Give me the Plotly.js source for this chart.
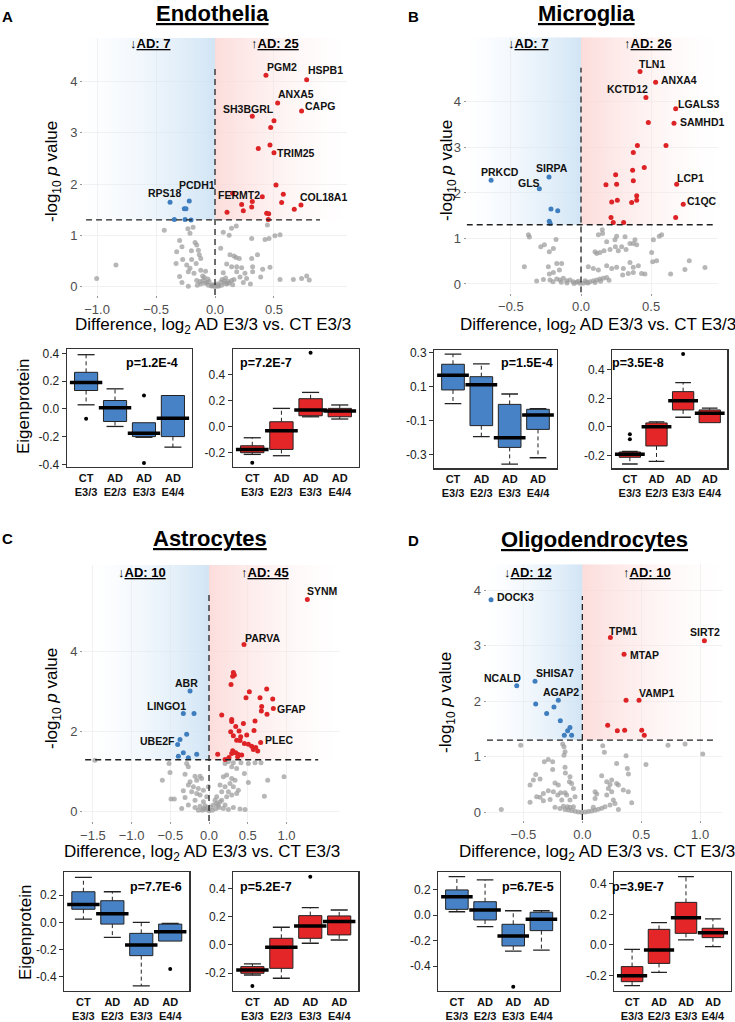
<!DOCTYPE html>
<html><head><meta charset="utf-8">
<script src="https://cdn.plot.ly/plotly-3.0.1.min.js"></script>
<style>html,body{margin:0;padding:0;background:#fff;}#chart{width:735px;height:1022px;}</style>
</head><body><div id="chart"></div>
<script>
// ---------------- DATA ----------------
const groups = ['CT<br>E3/3','AD<br>E2/3','AD<br>E3/3','AD<br>E4/4'];
const cellTypes = ['Endothelia','Microglia','Astrocytes','Oligodendrocytes'];
const panelLetters = ['A','B','C','D'];
const downCounts = [7,7,10,12];
const upCounts = [25,26,45,10];
const pDown = ['p=1.2E-4','p=1.5E-4','p=7.7E-6','p=6.7E-5'];
const pUp = ['p=7.2E-7','p=3.5E-8','p=5.2E-7','p=3.9E-7'];

// Endothelia volcano
const A_upX = [0.432,0.777,0.531,0.734,0.316,0.50,0.472,0.367,0.466,0.50,0.517,0.579,0.401,0.316,0.226,0.311,0.565,0.729,0.672,0.240,0.102,0.438,0.455,0.452,0.15];
const A_upY = [4.12,4.03,3.58,3.42,3.32,3.23,3.10,2.69,2.76,2.61,1.98,1.80,1.75,1.66,1.60,1.55,1.64,1.59,1.51,1.48,1.45,1.43,1.42,1.31,1.82];
const A_upLab = ['PGM2','HSPB1','ANXA5','CAPG','SH3BGRL','','','','','TRIM25','','','FERMT2','','','','','COL18A1','','','','','','',''];
const A_dnX = [-0.381,-0.218,-0.26,-0.246,-0.345,-0.254,-0.203];
const A_dnY = [1.645,1.67,1.52,1.52,1.31,1.31,1.30];
const A_dnLab = ['RPS18','PCDH1','','','','',''];
const A_gray = [[-1.003,0.16],[-0.84,0.42],[-0.43,1.10],[-0.23,1.13],[-0.186,1.16],[-0.212,1.04],[-0.30,0.90],[-0.28,0.78],[-0.169,0.86],[-0.155,0.81],[-0.325,0.68],[-0.141,0.71],[-0.20,0.70],[-0.133,0.62],[-0.121,0.55],[-0.198,0.53],[-0.274,0.53],[-0.33,0.45],[-0.16,0.45],[-0.240,0.42],[-0.212,0.36],[-0.226,0.29],[-0.178,0.26],[-0.121,0.32],[-0.08,0.30],[-0.105,0.21],[-0.30,0.20],[-0.28,0.08],[-0.226,0.01],[-0.155,0.12],[-0.127,0.10],[-0.085,0.065],[-0.056,0.03],[-0.028,0.013],[0.0,0.0],[0.028,0.013],[0.056,0.03],[0.085,0.065],[0.113,0.10],[0.141,0.12],[-0.10,0.12],[-0.07,0.08],[-0.05,0.10],[-0.02,0.04],[0.02,0.05],[0.05,0.09],[0.08,0.11],[0.10,0.05],[-0.12,0.05],[0.12,0.07],[-0.03,0.02],[0.03,0.015],[-0.06,0.15],[0.06,0.14],[0.09,0.17],[-0.09,0.18],[0.15,0.04],[-0.15,0.03],[0.0,0.03],[0.07,1.06],[0.14,1.14],[0.18,1.18],[0.12,1.0],[0.311,0.94],[0.424,0.92],[0.444,1.20],[0.458,0.94],[0.508,0.99],[0.551,1.01],[0.36,0.62],[0.048,0.75],[0.127,0.62],[0.161,0.60],[0.178,0.57],[0.311,0.55],[0.206,0.55],[0.099,0.44],[0.141,0.39],[0.184,0.39],[0.226,0.37],[0.319,0.39],[0.184,0.29],[0.254,0.26],[0.319,0.29],[0.404,0.34],[0.466,0.38],[0.387,0.19],[0.551,0.14],[0.664,0.14],[0.734,0.16],[0.777,0.21],[0.799,0.13],[0.161,0.14],[0.212,0.19],[0.268,0.16],[0.07,0.27],[0.24,0.08],[0.30,0.05]];

// Microglia volcano
const B_upX = [0.421,0.532,0.463,0.675,0.48,0.663,0.402,0.606,0.373,0.451,0.368,0.247,0.373,0.682,0.178,0.254,0.397,0.397,0.259,0.219,0.361,0.729,0.675,0.214,0.230,0.304];
const B_upY = [4.67,4.43,4.10,3.85,3.55,3.53,3.04,3.04,2.89,2.56,2.50,2.40,2.27,2.19,2.18,2.19,1.94,1.84,1.84,1.80,1.79,1.75,1.46,1.46,1.35,1.35];
const B_upLab = ['TLN1','ANXA4','KCTD12','LGALS3','','SAMHD1','','','','','','','','LCP1','','','','','','','','C1QC','','','',''];
const B_dnX = [-0.641,-0.228,-0.297,-0.214,-0.166,-0.226,-0.22];
const B_dnY = [2.28,2.35,2.09,1.65,1.61,1.38,1.33];
const B_dnLab = ['PRKCD','SIRPA','GLS','','','',''];
const B_gray = [[-0.375,1.08],[-0.368,1.03],[-0.287,0.82],[-0.261,0.86],[-0.226,0.71],[-0.197,0.78],[-0.178,0.98],[-0.404,0.38],[-0.233,0.38],[-0.173,0.45],[-0.138,0.45],[-0.226,0.22],[-0.197,0.25],[-0.154,0.31],[-0.316,0.066],[-0.268,0.10],[-0.221,0.09],[-0.173,0.11],[-0.15,0.09],[-0.126,0.125],[-0.102,0.073],[-0.078,0.09],[-0.055,0.05],[-0.031,0.037],[-0.007,0.015],[0.017,0.015],[0.04,0.037],[0.064,0.05],[0.088,0.073],[0.112,0.09],[0.135,0.11],[0.159,0.125],[0.183,0.14],[-0.10,0.02],[-0.05,0.01],[0.05,0.02],[0.10,0.03],[-0.02,0.06],[0.03,0.07],[0.14,0.06],[-0.14,0.04],[0.2,0.08],[-0.2,0.05],[0.124,1.08],[0.154,1.11],[0.152,1.19],[0.183,0.93],[0.10,0.71],[0.112,0.67],[0.135,0.69],[0.164,0.73],[0.207,0.76],[0.245,0.82],[0.266,0.73],[0.29,0.82],[0.321,0.76],[0.349,0.89],[0.373,0.89],[0.385,0.97],[0.397,0.86],[0.242,0.97],[0.254,1.05],[0.314,1.04],[0.516,0.97],[0.558,1.05],[0.575,1.08],[0.504,0.69],[0.511,0.49],[0.539,0.51],[0.052,0.38],[0.088,0.34],[0.124,0.31],[0.183,0.40],[0.219,0.34],[0.254,0.37],[0.302,0.34],[0.349,0.47],[0.373,0.37],[0.409,0.40],[0.297,0.20],[0.337,0.23],[0.373,0.25],[0.432,0.23],[0.456,0.22],[0.639,0.22],[0.741,0.32],[0.772,0.51],[0.884,0.36]];

// Astrocytes volcano
const C_upX = [1.27,0.452,0.314,0.327,0.306,0.284,0.521,0.745,0.478,0.659,0.823,0.680,0.676,0.831,0.749,0.594,0.164,0.293,0.293,0.444,0.345,0.28,0.388,0.581,0.314,0.409,0.487,0.357,0.40,0.457,0.508,0.551,0.603,0.667,0.573,0.629,0.306,0.345,0.379,0.422,0.293,0.112,0.207,0.258,0.37];
const C_upY = [5.31,4.18,3.48,3.42,3.39,3.18,3.0,3.07,2.85,2.85,2.82,2.63,2.52,2.58,2.44,2.27,2.42,2.31,2.26,2.21,2.13,2.0,2.02,2.03,1.90,1.875,1.92,1.79,1.78,1.71,1.69,1.64,1.61,1.73,1.56,1.52,1.525,1.475,1.43,1.42,1.46,1.44,1.31,1.36,1.375];
const C_upLab = ['SYNM','PARVA','','','','','','','','','','','','GFAP','','','','','','','','','','','','','','','','','','','','PLEC','','','','','','','','','','',''];
const C_dnX = [-0.245,-0.332,-0.194,-0.289,-0.375,-0.405,-0.332,-0.396,-0.267,-0.159];
const C_dnY = [3.02,2.46,2.46,1.94,1.81,1.68,1.475,1.39,1.35,1.44];
const C_dnLab = ['ABR','LINGO1','','','','UBE2F','','','',''];
const C_gray = [[-1.473,1.29],[-0.517,1.21],[-0.504,0.98],[-0.603,0.79],[-0.289,1.21],[-0.267,1.125],[-0.31,0.94],[-0.181,0.89],[-0.116,0.89],[-0.245,0.75],[-0.159,0.79],[-0.095,0.83],[-0.267,0.67],[-0.202,0.625],[-0.138,0.58],[-0.073,0.54],[-0.332,0.525],[-0.224,0.50],[-0.159,0.46],[-0.116,0.42],[-0.31,0.36],[-0.181,0.29],[-0.073,0.25],[-0.353,0.08],[-0.267,0.17],[-0.181,0.11],[-0.116,0.14],[-0.073,0.08],[-0.138,0.04],[-0.086,0.04],[-0.491,0.32],[-0.448,0.32],[-0.043,0.06],[0.0,0.025],[0.043,0.04],[0.086,0.075],[0.129,0.11],[-0.03,0.375],[-0.009,0.625],[-0.05,0.15],[-0.02,0.10],[0.02,0.12],[0.207,1.21],[0.25,1.25],[0.314,1.225],[0.413,1.225],[0.508,1.21],[0.594,1.225],[0.672,1.225],[0.293,1.125],[0.357,1.08],[0.457,0.96],[0.508,0.73],[0.758,0.79],[0.969,0.875],[0.715,0.39],[0.185,0.875],[0.228,0.92],[0.293,0.83],[0.336,0.79],[0.142,0.67],[0.207,0.625],[0.271,0.71],[0.314,0.625],[0.379,0.54],[0.357,0.46],[0.293,0.42],[0.228,0.375],[0.164,0.29],[0.099,0.21],[0.121,0.17],[0.207,0.17],[0.314,0.11],[0.40,0.07],[0.465,0.06],[0.164,0.50],[0.25,0.50],[0.099,0.375],[0.142,0.25],[0.056,0.17],[0.078,0.29],[0.185,0.08],[0.25,0.06]];

// Oligodendrocytes volcano
const D_upX = [0.238,1.036,0.354,0.371,0.481,0.215,0.297,0.359,0.504,0.526];
const D_upY = [3.15,3.09,2.85,2.02,2.02,1.57,1.47,1.48,1.48,1.39];
const D_upLab = ['TPM1','SIRT2','MTAP','','VAMP1','','','','',''];
const D_dnX = [-0.775,-0.557,-0.402,-0.396,-0.204,-0.241,-0.303,-0.187,-0.125,-0.105,-0.091,-0.153];
const D_dnY = [3.83,2.28,2.36,1.95,2.02,1.90,1.78,1.65,1.47,1.53,1.39,1.39];
const D_dnLab = ['DOCK3','NCALD','SHISA7','','AGAP2','','','','','','',''];
const D_gray = [[-0.523,1.21],[-0.167,1.23],[-0.156,1.18],[-0.147,1.09],[-0.156,1.03],[0.173,1.20],[0.187,1.08],[0.371,1.02],[0.727,1.21],[0.872,1.23],[1.022,1.05],[0.54,0.86],[0.291,0.88],[0.382,0.79],[0.391,0.69],[0.164,0.66],[-0.323,0.91],[-0.289,0.95],[-0.252,0.91],[-0.252,0.77],[-0.147,0.81],[-0.144,0.71],[-0.105,0.64],[-0.11,0.55],[-0.091,0.52],[-0.076,0.43],[-0.396,0.68],[-0.416,0.58],[-0.444,0.49],[-0.359,0.60],[-0.232,0.53],[-0.204,0.49],[-0.289,0.39],[-0.246,0.37],[-0.209,0.31],[-0.331,0.34],[-0.359,0.27],[-0.331,0.21],[-0.274,0.23],[-0.444,0.18],[-0.388,0.28],[-0.184,0.35],[-0.147,0.35],[-0.133,0.31],[-0.062,0.28],[-0.105,0.22],[-0.175,0.22],[0.108,0.37],[0.122,0.33],[0.108,0.25],[0.207,0.55],[0.249,0.58],[0.235,0.50],[0.291,0.52],[0.306,0.49],[0.221,0.43],[0.249,0.37],[0.207,0.31],[0.263,0.22],[0.277,0.16],[0.235,0.13],[0.192,0.10],[0.306,0.05],[0.348,0.40],[0.39,0.37],[0.419,0.17],[-0.688,0.05],[-0.232,0.09],[-0.19,0.07],[-0.147,0.05],[-0.119,0.04],[-0.091,0.03],[-0.062,0.02],[-0.034,0.006],[-0.006,0.0],[0.023,0.006],[0.051,0.012],[0.079,0.024],[0.108,0.036],[0.136,0.054],[0.164,0.072],[-0.161,0.11],[-0.127,0.10],[-0.105,0.09],[-0.076,0.10],[0.093,0.09]];

// Box plot stats per group: [lower whisker, q1, median, q3, upper whisker]
const A_downStats = [[0.029,0.132,0.19,0.263,0.39],[-0.127,-0.091,0.007,0.06,0.144],[-0.205,-0.2,-0.175,-0.1,-0.1],[-0.276,-0.2,-0.067,0.096,0.096]];
const A_downOut = [[1,-0.072],[3,0.096],[3,-0.39]];
const A_upStats = [[-0.211,-0.198,-0.173,-0.145,-0.084],[-0.221,-0.173,-0.031,0.038,0.14],[0.076,0.084,0.127,0.214,0.262],[0.059,0.076,0.12,0.14,0.166]];
const A_upOut = [[1,-0.275],[3,0.565]];
const B_downStats = [[0.0,0.081,0.167,0.232,0.292],[-0.194,-0.129,0.112,0.159,0.234],[-0.355,-0.257,-0.2,-0.004,0.057],[-0.318,-0.151,-0.066,-0.033,-0.029]];
const B_downOut = [];
const B_upStats = [[-0.259,-0.212,-0.191,-0.175,-0.17],[-0.24,-0.133,0.002,0.028,0.035],[0.068,0.119,0.184,0.247,0.31],[0.03,0.03,0.096,0.119,0.131]];
const B_upOut = [[1,-0.051],[1,-0.086],[3,0.51]];
const C_downStats = [[0.024,0.096,0.132,0.225,0.331],[-0.11,-0.013,0.063,0.159,0.225],[-0.468,-0.245,-0.167,-0.081,0.0],[-0.138,-0.138,-0.069,-0.013,-0.007]];
const C_downOut = [[4,-0.343]];
const C_upStats = [[-0.212,-0.2,-0.176,-0.153,-0.134],[-0.235,-0.165,-0.016,0.047,0.125],[0.012,0.047,0.134,0.207,0.263],[0.035,0.071,0.165,0.205,0.247]];
const C_upOut = [[1,-0.289],[3,0.482]];
const D_downStats = [[0.028,0.047,0.147,0.2,0.305],[-0.09,-0.037,0.042,0.107,0.279],[-0.282,-0.242,-0.163,-0.071,0.036],[-0.274,-0.121,-0.032,0.024,0.036]];
const D_downOut = [[3,-0.563]];
const D_upStats = [[-0.265,-0.239,-0.2,-0.141,-0.028],[-0.178,-0.12,-0.033,0.102,0.146],[0.033,0.076,0.178,0.278,0.446],[-0.011,0.048,0.08,0.109,0.17]];
const D_upOut = [];

// ---------------- LAYOUT / STYLE ----------------
const W=735,H=1022;
const F='Liberation Sans, Arial, Helvetica, sans-serif';
const RED='rgb(222,35,38)', BLUE='rgb(62,125,190)', GRAY='rgba(155,155,155,0.72)';
const BOXRED='rgb(228,38,40)', BOXBLUE='rgb(72,130,198)';
const dX=(a,b)=>[a/W,b/W];
const dY=(t,b)=>[1-b/H,1-t/H];
const THR = -Math.log10(0.05);

// label offsets from their point, in pixels [right, down]
const labelShift = {PGM2:[16,-8],HSPB1:[19,-10],ANXA5:[18,-9],CAPG:[18,-5],SH3BGRL:[-4,-7],TRIM25:[22,0],FERMT2:[-23,-2],COL18A1:[23,-8],PCDH1:[8,-16],RPS18:[-6,-9],
 TLN1:[12,-7],ANXA4:[23,-2],KCTD12:[-18,-8],LGALS3:[23,-5],SAMHD1:[28,-1],LCP1:[14,-6],C1QC:[19,-3],PRKCD:[9,-8],SIRPA:[3,-9],GLS:[-10,-6],
 SYNM:[15,-8],PARVA:[18,-7],ABR:[-4,-8],LINGO1:[-17,-7],UBE2F:[-20,-4],GFAP:[18,0],PLEC:[18,-3],
 DOCK3:[24,-3],NCALD:[-14,-8],SHISA7:[20,-8],AGAP2:[3,-8],TPM1:[13,-7],SIRT2:[1,-9],MTAP:[20,1],VAMP1:[18,-7]};

const VOL = [
 {px:[83,347], py:[37.7,295], xr:[-1.119,1.119], yr:[-0.162,4.85], xt:[-1,-0.5,0,0.5], yt:[0,1,2,3,4], hl:[-1.093,0.89], vtop:4.26, sL:-1.119, sR:1.119,
  up:[A_upX,A_upY,A_upLab], dn:[A_dnX,A_dnY,A_dnLab], gray:A_gray, letter:[8,16], title:[212,0], dnLab:[150,43], upLab:[275,43], xtit:[213,326], ytit:[53,172]},
 {px:[466.7,718.3], py:[37.3,292.5], xr:[-0.815,0.979], yr:[-0.187,5.42], xt:[-0.5,0,0.5], yt:[0,1,2,3,4], hl:[-0.815,0.967], vtop:4.75, sL:-0.815, sR:0.979,
  up:[B_upX,B_upY,B_upLab], dn:[B_dnX,B_dnY,B_dnLab], gray:B_gray, letter:[413,16], title:[586,0], dnLab:[528,43], upLab:[648,43], xtit:[598,326], ytit:[448,171]},
 {px:[83,340], py:[565,821], xr:[-1.628,1.692], yr:[-0.23,6.17], xt:[-1.5,-1,-0.5,0,0.5,1], yt:[0,2,4], hl:[-1.60,1.41], vtop:5.42, sL:-1.5, sR:1.692,
  up:[C_upX,C_upY,C_upLab], dn:[C_dnX,C_dnY,C_dnLab], gray:C_gray, letter:[8,538], title:[210,525], dnLab:[142,572], upLab:[265,572], xtit:[202,853], ytit:[53,699]},
 {px:[486.7,721.7], py:[564.3,820], xr:[-0.812,1.183], yr:[-0.139,4.47], xt:[-0.5,0,0.5,1], yt:[0,1,2,3,4], hl:[-0.81,1.14], vtop:3.9, sL:-0.80, sR:1.183,
  up:[D_upX,D_upY,D_upLab], dn:[D_dnX,D_dnY,D_dnLab], gray:D_gray, letter:[413,540], title:[594,526], dnLab:[528,572], upLab:[647,572], xtit:[597,853], ytit:[447,703]}
];

const BOX = [
 {px:[67,192], py:[349,467], yr:[-0.419,0.431], yt:[-0.4,-0.2,0,0.2,0.4], st:A_downStats, out:A_downOut, col:BOXBLUE, p:pDown[0], pp:[152,363]},
 {px:[233,359], py:[349,467], yr:[-0.307,0.593], yt:[-0.2,0,0.2,0.4], st:A_upStats, out:A_upOut, col:BOXRED, p:pUp[0], pp:[266,363]},
 {px:[434.3,556.7], py:[350,468.3], yr:[-0.38,0.316], yt:[-0.3,-0.1,0.1,0.3], st:B_downStats, out:B_downOut, col:BOXBLUE, p:pDown[1], pp:[527,363]},
 {px:[612.3,727.3], py:[350,468.3], yr:[-0.289,0.538], yt:[-0.2,0,0.2,0.4], st:B_upStats, out:B_upOut, col:BOXRED, p:pUp[1], pp:[638,363]},
 {px:[64.3,189.3], py:[872.3,991], yr:[-0.505,0.368], yt:[-0.4,-0.2,0,0.2], st:C_downStats, out:C_downOut, col:BOXBLUE, p:pDown[2], pp:[156,887]},
 {px:[233.3,358.3], py:[872.3,991], yr:[-0.325,0.513], yt:[-0.2,0,0.2,0.4], st:C_upStats, out:C_upOut, col:BOXRED, p:pUp[2], pp:[266,887]},
 {px:[438.3,560], py:[872.3,991], yr:[-0.597,0.339], yt:[-0.4,-0.2,0,0.2], st:D_downStats, out:D_downOut, col:BOXBLUE, p:pDown[3], pp:[528,887]},
 {px:[614.3,730.7], py:[872.3,991], yr:[-0.300,0.474], yt:[-0.2,0,0.2,0.4], st:D_upStats, out:D_upOut, col:BOXRED, p:pUp[3], pp:[638,887]}
];

const traces=[], shapes=[], annotations=[];
const layout = {width:W, height:H, margin:{l:0,r:0,t:0,b:0}, paper_bgcolor:'#fff', plot_bgcolor:'rgba(0,0,0,0)', showlegend:false, font:{family:F}};
const ann = (x,y,text,size,opts)=>Object.assign({xref:'paper',yref:'paper',x:x/W,y:1-y/H,text:text,showarrow:false,xanchor:'center',yanchor:'middle',font:{family:F,size:size,color:'#000'}},opts||{});

VOL.forEach((v,i)=>{
  const n=i+1, sx=n===1?'':String(n);
  const xa='x'+sx, ya='y'+sx;
  layout['xaxis'+sx] = {domain:dX(v.px[0],v.px[1]), range:v.xr, anchor:ya, tickvals:v.xt, tickformat:'.1f', showgrid:true, gridcolor:'#ededed', gridwidth:0.8, zeroline:false, showline:false, ticks:'outside', ticklen:2, tickcolor:'#999', tickfont:{family:F,size:13,color:'#4d4d4d'}, fixedrange:true};
  layout['yaxis'+sx] = {domain:dY(v.py[0],v.py[1]), range:v.yr, anchor:xa, tickvals:v.yt, tickformat:'d', showgrid:true, gridcolor:'#ededed', gridwidth:0.8, zeroline:false, showline:false, ticks:'outside', ticklen:2, tickcolor:'#999', tickfont:{family:F,size:13,color:'#4d4d4d'}, fixedrange:true};
  // gradient shading
  traces.push({type:'scatter', xaxis:xa, yaxis:ya, x:[v.sL,0,0,v.sL,v.sL], y:[THR,THR,v.yr[1],v.yr[1],THR], mode:'none', fill:'toself',
    fillgradient:{type:'horizontal', colorscale:[[0,'rgba(230,241,251,0)'],[1,'rgba(205,226,244,0.9)']]}, hoverinfo:'skip'});
  traces.push({type:'scatter', xaxis:xa, yaxis:ya, x:[0,v.sR,v.sR,0,0], y:[THR,THR,v.yr[1],v.yr[1],THR], mode:'none', fill:'toself',
    fillgradient:{type:'horizontal', colorscale:[[0,'rgba(251,215,213,0.85)'],[1,'rgba(254,240,240,0)']]}, hoverinfo:'skip'});
  // gray
  traces.push({type:'scatter', mode:'markers', xaxis:xa, yaxis:ya, x:v.gray.map(p=>p[0]), y:v.gray.map(p=>p[1]), marker:{color:GRAY,size:5}, hoverinfo:'skip'});
  // down & up points + gene labels
  [[v.dn,BLUE],[v.up,RED]].forEach(([d,c])=>{
    traces.push({type:'scatter', mode:'markers', xaxis:xa, yaxis:ya, x:d[0], y:d[1], marker:{color:c,size:5}, hoverinfo:'skip'});
    d[2].forEach((lab,k)=>{
      if(!lab) return;
      const s=labelShift[lab]||[0,-8];
      annotations.push({xref:xa, yref:ya, x:d[0][k], y:d[1][k], text:'<b>'+lab+'</b>', showarrow:false, xanchor:'center', yanchor:'middle',
        xshift:s[0], yshift:-s[1], font:{family:F,size:10.5,color:'#111'}});
    });
  });
  // dashed lines
  shapes.push({type:'line', xref:xa, yref:ya, x0:v.hl[0], x1:v.hl[1], y0:THR, y1:THR, line:{color:'#222',width:1.3,dash:'6px,4px'}, layer:'above'});
  shapes.push({type:'line', xref:xa, yref:ya, x0:0, x1:0, y0:v.yr[0], y1:v.vtop, line:{color:'#222',width:1.3,dash:'6px,4px'}, layer:'above'});
  // texts
  annotations.push(ann(v.letter[0],v.letter[1],'<b>'+panelLetters[i]+'</b>',15));
  annotations.push(ann(v.title[0],v.title[1],'<b><u>'+cellTypes[i]+'</u></b>',22,{yanchor:'top',borderpad:0}));
  annotations.push(ann(v.dnLab[0],v.dnLab[1],'<b>↓<u>AD: '+downCounts[i]+'</u></b>',13));
  annotations.push(ann(v.upLab[0],v.upLab[1],'<b>↑<u>AD: '+upCounts[i]+'</u></b>',13));
  annotations.push(ann(v.xtit[0],v.xtit[1],'Difference, log<sub>2</sub> AD E3/3 vs. CT E3/3',17));
  annotations.push(ann(v.ytit[0],v.ytit[1],'-log<sub>10</sub> <i>p</i> value',17,{textangle:-90}));
});

BOX.forEach((b,j)=>{
  const n=j+5, sx=String(n);
  const xa='x'+sx, ya='y'+sx;
  const xr=[0.34,4.66];
  const pxu=(b.px[1]-b.px[0])/(xr[1]-xr[0]);
  layout['xaxis'+sx] = {domain:dX(b.px[0],b.px[1]), range:xr, anchor:ya, tickvals:[1,2,3,4], ticktext:groups, tickangle:0, ticks:'', showline:true, mirror:true, linecolor:'#333', linewidth:1.3, showgrid:false, zeroline:false, tickfont:{family:F,size:11,color:'#111',weight:'bold'}, fixedrange:true};
  layout['yaxis'+sx] = {domain:dY(b.py[0],b.py[1]), range:b.yr, anchor:xa, tickvals:b.yt, ticktext:b.yt.map(t=>t.toFixed(1)), ticks:'outside', ticklen:4, tickcolor:'#333', showline:true, mirror:true, linecolor:'#333', linewidth:1.3, showgrid:false, zeroline:false, tickfont:{family:F,size:12,color:'#222'}, fixedrange:true};
  const xs=[1,2,3,4];
  traces.push({type:'box', xaxis:xa, yaxis:ya, x:xs, q1:b.st.map(s=>s[1]), median:b.st.map(s=>s[2]), q3:b.st.map(s=>s[3]), lowerfence:b.st.map(s=>s[1]), upperfence:b.st.map(s=>s[3]),
    width:0.8, fillcolor:b.col, line:{color:'#222',width:1}, whiskerwidth:0, boxpoints:false, hoverinfo:'skip'});
  const wx=[], wy=[], cx=[], cy=[];
  b.st.forEach((s,i)=>{
    if(s[4]>s[3]+1e-9){wx.push(i+1,i+1,null); wy.push(s[3],s[4],null); cx.push(i+1); cy.push(s[4]);}
    if(s[0]<s[1]-1e-9){wx.push(i+1,i+1,null); wy.push(s[1],s[0],null); cx.push(i+1); cy.push(s[0]);}
  });
  traces.push({type:'scatter', mode:'lines', xaxis:xa, yaxis:ya, x:wx, y:wy, line:{color:'#222',width:1,dash:'4px,3px'}, hoverinfo:'skip'});
  traces.push({type:'scatter', mode:'markers', xaxis:xa, yaxis:ya, x:cx, y:cy, marker:{symbol:'line-ew-open', color:'#222', size:0.42*pxu, line:{color:'#222',width:1.3}}, hoverinfo:'skip'});
  traces.push({type:'scatter', mode:'markers', xaxis:xa, yaxis:ya, x:xs, y:b.st.map(s=>s[2]), marker:{symbol:'line-ew-open', color:'#000', size:0.8*pxu, line:{color:'#000',width:3.5}}, hoverinfo:'skip'});
  if(b.out.length) traces.push({type:'scatter', mode:'markers', xaxis:xa, yaxis:ya, x:b.out.map(o=>o[0]), y:b.out.map(o=>o[1]), marker:{color:'#000',size:4}, cliponaxis:false, hoverinfo:'skip'});
  annotations.push(ann(b.pp[0],b.pp[1],'<b>'+b.p+'</b>',12.5));
});
annotations.push(ann(23,407,'Eigenprotein',17,{textangle:-90}));
annotations.push(ann(25,933,'Eigenprotein',17,{textangle:-90}));

layout.shapes=shapes; layout.annotations=annotations;
Plotly.newPlot('chart', traces, layout, {staticPlot:true, displayModeBar:false});
</script></body></html>
